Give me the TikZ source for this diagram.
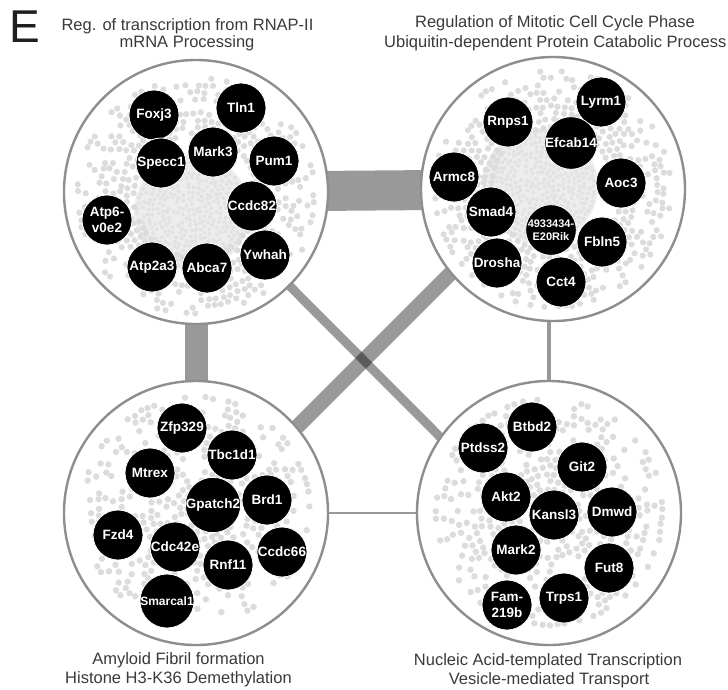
\documentclass[tikz,border=0pt]{standalone}
\usepackage{fontspec}
\setmainfont{Liberation Sans}
\usetikzlibrary{calc}

\definecolor{ringgray}{HTML}{8E8E92}
\definecolor{dotgray}{HTML}{DCDCDC}
\definecolor{hazegray}{HTML}{E2E2E2}
\definecolor{titlegray}{HTML}{3A3A3A}

\pgfdeclarelayer{paper}
\pgfdeclarelayer{links}
\pgfsetlayers{paper,links,main}

\tikzset{
  cluster/.style={circle, draw=ringgray, line width=2.4pt, fill=white,
                  minimum size=264pt, inner sep=0pt},
  gene/.style={circle, fill=black, draw=white, line width=0.8pt,
               minimum size=50pt, inner sep=0pt, text=white, align=center,
               font=\fontsize{13.5}{16}\selectfont\bfseries},
  smallgene/.style={gene, font=\fontsize{11}{12.5}\selectfont\bfseries},
  link/.style={draw=black, draw opacity=0.4},
  title/.style={text=titlegray, font=\fontsize{16.5}{19}\selectfont,
                inner sep=0pt, anchor=base},
}

% Concentric rings of small dots around (#1,#2):
% #3,#4..#5 ring radii, #6 dot spacing, #7 keep probability,
% #8 colour, #9 dot radius
\newcommand\dotrings[9]{%
  \foreach \ringrho in {#3,#4,...,#5}{%
    \pgfmathtruncatemacro\ringn{6.2832*\ringrho/#6+0.5}%
    \pgfmathsetmacro\ringstep{360/\ringn}%
    \pgfmathsetmacro\ringoff{rnd*360}%
    \pgfmathsetmacro\ringprob{#7}%
    \foreach \ringk in {1,...,\ringn}{%
      \pgfmathsetmacro\ringdraw{rnd}%
      \ifdim\ringdraw pt<\ringprob pt
        \pgfmathsetmacro\ringang{\ringoff+\ringstep*\ringk+(rnd-0.5)*\ringstep/3}%
        \pgfmathsetmacro\ringrad{\ringrho+(rnd-0.5)*2}%
        \fill[#8,shift={(#1,#2)}] (\ringang:\ringrad pt) circle[radius=#9];%
      \fi
    }%
  }%
}

\begin{document}
\begin{tikzpicture}[x=1pt,y=-1pt]
\pgfmathsetseed{17}
\useasboundingbox (0,0) rectangle (728,689);
\begin{pgfonlayer}{paper}
  \fill[white] (0,0) rectangle (728,689);
\end{pgfonlayer}

% panel letter
\node[anchor=base west, inner sep=0pt, text=black!88,
      font=\fontsize{46}{46}\selectfont] (panel) at (9.5,42) {E};

% cluster titles
\node[title] (tlA) at (187.5,30) {Reg. of transcription from RNAP-II};
\node[title] (tlB) at (187,47.5) {mRNA Processing};
\node[title] (trA) at (555,27.5) {Regulation of Mitotic Cell Cycle Phase};
\node[title, anchor=base west] (trB) at (384,47.5) {Ubiquitin-dependent Protein Catabolic Process};
\node[title] (blA) at (178.5,664) {Amyloid Fibril formation};
\node[title] (blB) at (178.5,683) {Histone H3-K36 Demethylation};
\node[title] (brA) at (548,665) {Nucleic Acid-templated Transcription};
\node[title] (brB) at (549,684) {Vesicle-mediated Transport};

% the four clusters
\node[cluster] (tl) at (196,192) {};
\node[cluster] (tr) at (553,189) {};
\node[cluster] (bl) at (196,513) {};
\node[cluster] (br) at (549,513) {};

% links between clusters (drawn underneath the clusters)
\coordinate (d1a) at (230,494);
\coordinate (d1b) at (520,204);
\coordinate (d2b) at (470,467);
\begin{pgfonlayer}{links}
  \draw[link, line width=40pt] (tl.center) -- (tr.center);
  \draw[link, line width=23pt] (tl.center) -- (bl.center);
  \draw[link, line width=15pt] (d1a) -- (d1b);
  \draw[link, line width=9pt] (tl.center) -- (d2b);
  \draw[link, line width=3.5pt] (br.center) -- (br.center |- tr.center);
  \draw[link, line width=1.8pt] (bl.center) -- (br.center);
\end{pgfonlayer}

% background networks inside the clusters
\fill[black!7] (192,212) circle[radius=58pt];
\dotrings{192}{212}{4}{9}{54}{5}{0.9}{hazegray}{2pt}
\dotrings{196}{196}{62}{69}{118}{7.3}{1.45-\ringrho/110}{dotgray}{3.1pt}

\fill[black!7] (540,186) circle[radius=58pt];
\dotrings{540}{186}{4}{9}{54}{5}{0.9}{hazegray}{2pt}
\dotrings{553}{189}{62}{69}{118}{7.3}{1.45-\ringrho/110}{dotgray}{3.1pt}

\dotrings{196}{510}{8}{15.5}{113}{7.5}{0.8-\ringrho/260}{dotgray}{3.2pt}
\dotrings{549}{512}{8}{15.5}{113}{7.5}{0.8-\ringrho/260}{dotgray}{3.2pt}

% genes: top-left cluster
\node[gene] (foxj3)  at (154,115) {Foxj3};
\node[gene] (specc1) at (161,163) {Specc1};
\node[gene] (tln1)   at (241,108) {Tln1};
\node[gene] (mark3)  at (213,152) {Mark3};
\node[gene] (pum1)   at (274,161) {Pum1};
\node[gene] (ccdc82) at (252,206) {Ccdc82};
\node[gene] (ywhah)  at (265,255) {Ywhah};
\node[gene] (atp6)   at (107,220) {Atp6-\\v0e2};
\node[gene] (atp2a3) at (152,267) {Atp2a3};
\node[gene] (abca7)  at (207,268) {Abca7};

% genes: top-right cluster
\node[gene] (lyrm1)   at (601,102) {Lyrm1};
\node[gene] (efcab14) at (571,143) {Efcab14};
\node[gene] (rnps1)   at (508,122) {Rnps1};
\node[gene] (aoc3)    at (621,183) {Aoc3};
\node[gene] (armc8)   at (454,177) {Armc8};
\node[gene] (smad4)   at (491,212) {Smad4};
\node[gene] (drosha)  at (497,263) {Drosha};
\node[smallgene] (rik) at (551,230) {4933434-\\E20Rik};
\node[gene] (fbln5)   at (602,242) {Fbln5};
\node[gene] (cct4)    at (561,282) {Cct4};

% genes: bottom-left cluster
\node[gene] (zfp329)   at (182,428) {Zfp329};
\node[gene] (tbc1d1)   at (232,455) {Tbc1d1};
\node[gene] (mtrex)    at (150,473) {Mtrex};
\node[gene] (gpatch2)  at (213,505) {Gpatch2};
\node[gene] (brd1)     at (267,500) {Brd1};
\node[gene] (fzd4)     at (118,535) {Fzd4};
\node[gene] (cdc42e)   at (175,547) {Cdc42e};
\node[gene] (rnf11)    at (228,565) {Rnf11};
\node[gene] (ccdc66)   at (282,552) {Ccdc66};
\node[gene, font=\fontsize{12}{14}\selectfont\bfseries] (smarcal1) at (167,601) {Smarcal1};

% genes: bottom-right cluster
\node[gene] (btbd2)  at (532,427) {Btbd2};
\node[gene] (ptdss2) at (483,448) {Ptdss2};
\node[gene] (git2)   at (582,467) {Git2};
\node[gene] (akt2)   at (506,497) {Akt2};
\node[gene] (kansl3) at (554,515) {Kansl3};
\node[gene] (dmwd)   at (612,512) {Dmwd};
\node[gene] (mark2)  at (516,550) {Mark2};
\node[gene] (fut8)   at (609,568) {Fut8};
\node[gene] (trps1)  at (564,598) {Trps1};
\node[gene] (fam219b) at (507,605) {Fam-\\219b};
\end{tikzpicture}
\end{document}
